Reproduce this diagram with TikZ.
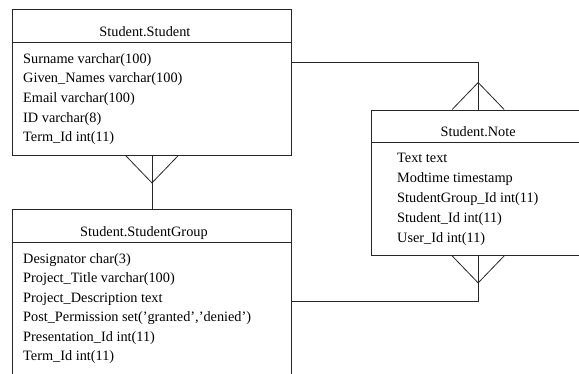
\documentclass[tikz,border=0pt]{standalone}
\usepackage{fontspec}
\setmainfont{Liberation Serif}
\usepackage{tikz}
\usetikzlibrary{positioning, calc}
\tikzset{
  entity/.style={
    rectangle, draw=black!85, line width=0.9pt,
    anchor=north west, inner sep=0pt
  },
  tablename/.style={
    font=\fontsize{14.3}{19.7}\selectfont,
    anchor=base, inner sep=0pt
  },
  fields/.style={
    font=\fontsize{14.3}{19.7}\selectfont,
    align=left, anchor=base west, inner sep=0pt
  },
  relation/.style={draw=black!85, line width=0.8pt},
  crowfoot/.pic={\draw[relation] (-26,0) -- (0,27) -- (26,0);}
}

\begin{document}
\begin{tikzpicture}[x=1pt, y=-1pt]
  \useasboundingbox (0,0) rectangle (579,373);
  \clip (0,0) rectangle (579,373);
  % tables
  \node[entity, minimum width=279pt, minimum height=146pt] (stu) at (12,9) {};
  \node[entity, minimum width=279pt, minimum height=180pt] (grp) at (12,209) {};
  \node[entity, minimum width=213.4pt, minimum height=145.5pt] (note) at (371,109.5) {};
  \draw[relation] ([yshift=-33pt]stu.north west) -- ([yshift=-33pt]stu.north east);
  \draw[relation] ([yshift=-33pt]grp.north west) -- ([yshift=-33pt]grp.north east);
  \draw[relation] ([yshift=-32.5pt]note.north west) -- ([yshift=-32.5pt]note.north east);
  % names
  \node[tablename] (stuname) at ([xshift=-7pt, yshift=-27pt]stu.north) {Student.Student};
  \node[tablename] (grpname) at ([xshift=-8pt, yshift=-27pt]grp.north) {Student.StudentGroup};
  \node[tablename] (notename) at ([yshift=-27pt]note.north) {Student.Note};
  % columns (anchored at the last line)
  \node[fields] (stufields) at (23,141.8) {Surname varchar(100)\\Given\_Names varchar(100)\\Email varchar(100)\\ID varchar(8)\\Term\_Id int(11)};
  \node[fields, font=\fontsize{14.3}{19.5}\selectfont] (grpfields) at (23,360.8) {Designator char(3)\\Project\_Title varchar(100)\\Project\_Description text\\Post\_Permission set('granted','denied')\\Presentation\_Id int(11)\\Term\_Id int(11)};
  \node[fields, font=\fontsize{14.3}{19.9}\selectfont] (notefields) at (397,242.3) {Text text\\Modtime timestamp\\StudentGroup\_Id int(11)\\Student\_Id int(11)\\User\_Id int(11)};
  % relations
  \draw[relation] (stu.south) -- (grp.north);
  \pic at (stu.south) {crowfoot};
  \draw[relation] ([yshift=-53.7pt]stu.north east) -| (note.north);
  \pic[yscale=-1] at (note.north) {crowfoot};
  \draw[relation] (note.south) |- ([yshift=-92.7pt]grp.north east);
  \pic at (note.south) {crowfoot};
\end{tikzpicture}
\end{document}
